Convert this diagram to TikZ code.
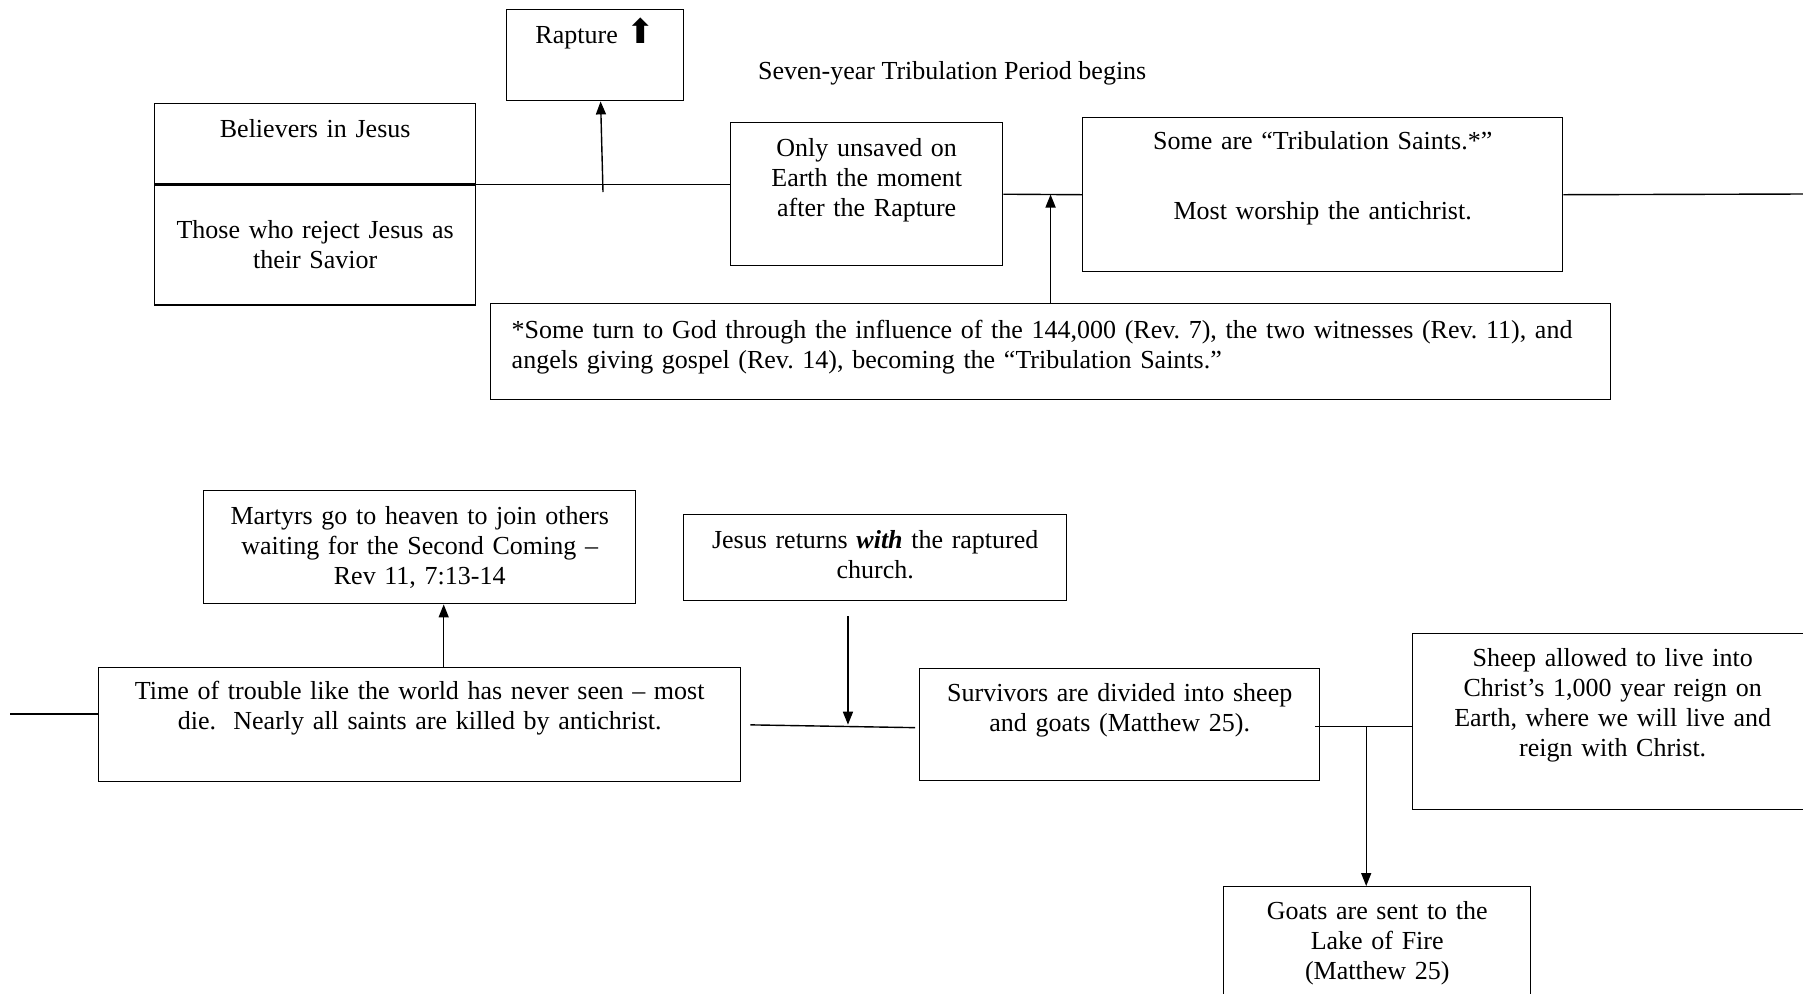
\documentclass[tikz,border=0pt]{standalone}
\usepackage{fontspec}
\setmainfont{Liberation Serif}
\newfontfamily\symbolfont{DejaVu Sans}
\usetikzlibrary{positioning, arrows.meta, calc}

\begin{document}
\frenchspacing
\fontsize{13}{15}\selectfont
\begin{tikzpicture}[x=0.5pt, y=-0.5pt,
    box/.style={draw, line width=0.7pt, anchor=north west, inner sep=0pt, align=center, text height=17pt},
    tie/.style={line width=0.7pt},
    pointer/.style={tie, -{Triangle[width=5pt, length=6.5pt]}}]
    \clip (0,0) rectangle (1803,993);
    % top row
    \node[box, text width=88.5pt, text depth=28.5pt] (rapture) at (506,9) {Rapture {\symbolfont\fontsize{17}{17}\selectfont ⬆}};
    \node[box, text width=160.5pt, text depth=23pt] (believers) at (154,103) {Believers in Jesus};
    \node[box, text width=160.5pt, text height=26.5pt, text depth=33.5pt] (rejecters) [below=0pt of believers] {Those who reject Jesus as\\their Savior};
    \node[anchor=base west] (period) at (749,79) {Seven-year Tribulation Period begins};
    \node[box, text width=136pt, text depth=54.5pt] (unsaved) at (730,122) {Only unsaved on\\Earth the moment\\after the Rapture};
    \node[box, text width=240pt, text height=16pt, text depth=61pt] (saints) at (1082,117) {Some are “Tribulation Saints.*”\\[20pt]Most worship the antichrist.};
    \node[box, text width=539pt, inner xsep=10.5pt, align=left, text height=17.5pt, text depth=30.5pt] (footnote) at (490,303) {*Some turn to God through the influence of the 144,000 (Rev. 7), the two witnesses (Rev. 11), and\\angels giving gospel (Rev. 14), becoming the “Tribulation Saints.”};
    % bottom row
    \node[box, text width=216pt, text depth=39.5pt] (martyrs) at (203,490) {Martyrs go to heaven to join others\\waiting for the Second Coming –\\Rev 11, 7:13-14};
    \node[box, text width=191.5pt, text depth=26pt] (returns) at (683,514) {Jesus returns \textbf{\textit{with}} the raptured\\church.};
    \node[box, text width=321pt, text height=16pt, text depth=41pt] (trouble) at (98,667) {Time of trouble like the world has never seen – most\\die.\ \ Nearly all saints are killed by antichrist.};
    \node[box, text width=200pt, text height=16.5pt, text depth=39.5pt] (survivors) at (919,668) {Survivors are divided into sheep\\and goats (Matthew 25).};
    \node[box, text width=200pt, text height=16.5pt, text depth=71.5pt] (sheep) at (1412,633) {Sheep allowed to live into\\Christ’s 1,000 year reign on\\Earth, where we will live and\\reign with Christ.};
    \node[box, text width=153.5pt, text height=16.5pt, text depth=45.5pt] (goats) at (1223,886) {Goats are sent to the\\Lake of Fire\\(Matthew 25)};

    % connectors
    \coordinate (raptfoot) at (603,192);
    \coordinate (rightend) at (1803,194);
    \coordinate (leftend) at (10,714);
    \coordinate (join) at ($(unsaved.east)!0.6!(saints.west)$);
    \coordinate (meet) at ($(trouble.east)!0.6!(survivors.west)$);
    \coordinate (split) at ($(survivors.east)!0.5!(sheep.west)+(0,3)$);
    \draw[tie] (believers.south east) -- (believers.south east -| unsaved.west);
    \draw[pointer] (raptfoot) -- ([xshift=2.7pt]rapture.south);
    \draw[tie] (unsaved.east) -- (saints.west);
    \draw[pointer] (footnote.north -| join) -- (join);
    \draw[tie] (saints.east) -- (rightend);
    \draw[tie] (leftend) -- (leftend -| trouble.west);
    \draw[pointer] ([xshift=12pt]trouble.north) -- ([xshift=12pt]martyrs.south);
    \draw[tie, shorten <=4.5pt, shorten >=2pt] (trouble.east) -- ([yshift=-1.5pt]survivors.west);
    \draw[pointer] ([yshift=-7.5pt]returns.south -| meet) -- (meet);
    \draw[tie] ([xshift=-2.5pt]survivors.east |- split) -- (split -| sheep.west);
    \draw[pointer] (split) -- (split |- goats.north);
\end{tikzpicture}
\end{document}
